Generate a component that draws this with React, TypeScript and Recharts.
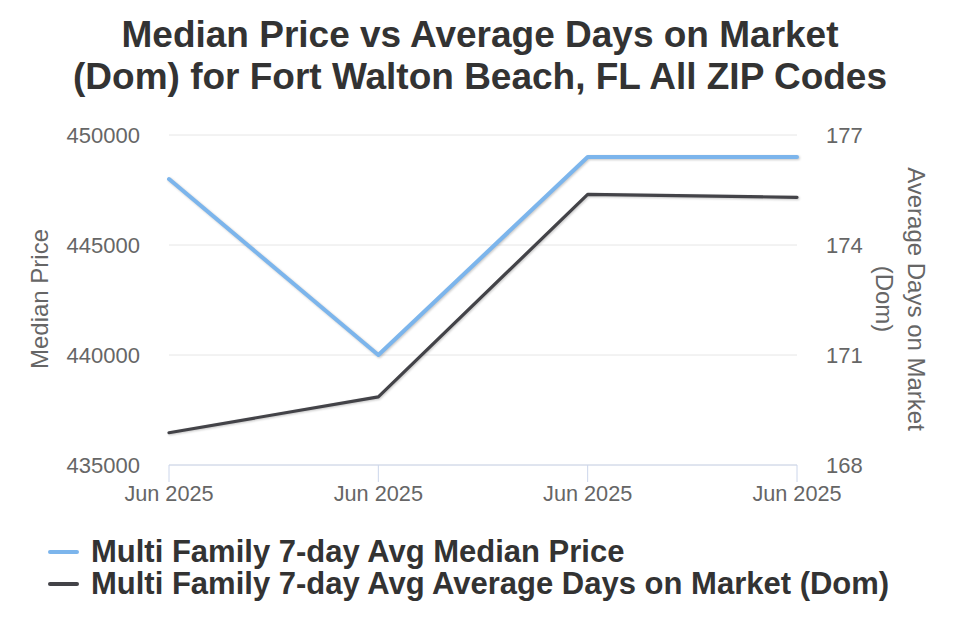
import React from 'react';
import { LineChart, Line, XAxis, YAxis, CartesianGrid, Legend } from 'recharts';

// ---- data ----
const periods = ['Jun 2025', 'Jun 2025', 'Jun 2025', 'Jun 2025'];
const medianPrice = [448000, 440000, 449000, 449000];
const avgDaysOnMarket = [168.88, 169.86, 175.38, 175.3];
const priceTicks = [435000, 440000, 445000, 450000];
const domTicks = [168, 171, 174, 177];

const titleLines = [
  'Median Price vs Average Days on Market',
  '(Dom) for Fort Walton Beach, FL All ZIP Codes',
];
const priceAxisTitle = 'Median Price';
const domAxisTitleLines = ['Average Days on Market', '(Dom)'];
const priceSeriesName = 'Multi Family 7-day Avg Median Price';
const domSeriesName = 'Multi Family 7-day Avg Average Days on Market (Dom)';
const seriesOrder = ['price', 'dom'];

const data = periods.map((period, i) => ({
  period,
  price: medianPrice[i],
  dom: avgDaysOnMarket[i],
}));

// ---- layout ----
const W = 960;
const H = 640;
const FONT = '"Liberation Sans", Arial, Helvetica, sans-serif';
const BLUE = '#7cb5ec';
const DARK = '#434348';
const AXIS_TEXT = '#666666';
const MARGIN = { top: 135, right: 63, bottom: 135, left: 69 };
const Y_AXIS_W = 100;

const LeftAxisTitle = (props: any) => {
  const vb = props.viewBox ?? { x: MARGIN.left, y: MARGIN.top, width: Y_AXIS_W, height: 330 };
  const cx = vb.x + vb.width - 130;
  const cy = vb.y + vb.height / 2 - 1;
  return (
    <text
      x={cx}
      y={cy}
      transform={`rotate(-90 ${cx} ${cy})`}
      textAnchor="middle"
      dominantBaseline="central"
      fontSize={24}
      fontFamily={FONT}
      fill={AXIS_TEXT}
    >
      {priceAxisTitle}
    </text>
  );
};

const RightAxisTitle = (props: any) => {
  const vb = props.viewBox ?? {
    x: W - MARGIN.right - Y_AXIS_W,
    y: MARGIN.top,
    width: Y_AXIS_W,
    height: 330,
  };
  const cy = vb.y + vb.height / 2 - 1;
  const offsets = [119.5, 87.5];
  return (
    <g>
      {domAxisTitleLines.map((line, i) => {
        const cx = vb.x + offsets[i];
        return (
          <text
            key={line}
            x={cx}
            y={cy}
            transform={`rotate(90 ${cx} ${cy})`}
            textAnchor="middle"
            dominantBaseline="central"
            fontSize={24}
            fontFamily={FONT}
            fill={AXIS_TEXT}
          >
            {line}
          </text>
        );
      })}
    </g>
  );
};

const renderLegend = (props: any) => {
  const items = [...(props.payload ?? [])].sort(
    (a: any, b: any) => seriesOrder.indexOf(a.dataKey) - seriesOrder.indexOf(b.dataKey)
  );
  return (
    <div style={{ fontFamily: FONT }}>
      {items.map((item: any) => (
        <div
          key={item.dataKey}
          style={{ display: 'flex', alignItems: 'center', height: 32 }}
        >
          <svg width={34} height={8} style={{ marginRight: 10, flex: 'none' }}>
            <line
              x1={3}
              y1={4}
              x2={30}
              y2={4}
              stroke={item.color}
              strokeWidth={4}
              strokeLinecap="round"
            />
          </svg>
          <span
            style={{
              fontSize: 31,
              fontWeight: 'bold',
              color: '#333333',
              lineHeight: '32px',
              whiteSpace: 'nowrap',
            }}
          >
            {item.value}
          </span>
        </div>
      ))}
    </div>
  );
};

export default function App() {
  return (
    <div
      style={{
        position: 'absolute',
        left: 0,
        top: 0,
        width: W,
        height: H,
        overflow: 'hidden',
        background: '#ffffff',
        fontFamily: FONT,
      }}
    >
      <style>{`
        .series-line .recharts-curve {
          filter: drop-shadow(1px 1.5px 1px rgba(0, 0, 0, 0.22));
        }
      `}</style>
      <div
        style={{
          position: 'absolute',
          top: 14,
          left: 0,
          width: W,
          textAlign: 'center',
          fontSize: 37,
          fontWeight: 'bold',
          lineHeight: '42px',
          color: '#333333',
          zIndex: 2,
        }}
      >
        {titleLines.map((line) => (
          <div key={line}>{line}</div>
        ))}
      </div>
      <LineChart width={W} height={H} data={data} margin={MARGIN}>
        <CartesianGrid
          yAxisId="price"
          vertical={false}
          stroke="#e6e6e6"
          strokeWidth={1}
        />
        <XAxis
          dataKey="period"
          stroke="#ccd6eb"
          axisLine={{ stroke: '#ccd6eb', strokeWidth: 1 }}
          tickLine={{ stroke: '#ccd6eb', strokeWidth: 1 }}
          tickSize={17}
          tickMargin={4}
          height={40}
          interval={0}
          tick={{ fill: AXIS_TEXT, fontSize: 21.7, fontFamily: FONT }}
        />
        <YAxis
          yAxisId="price"
          orientation="left"
          width={Y_AXIS_W}
          domain={[435000, 450000]}
          ticks={priceTicks}
          interval={0}
          axisLine={false}
          tickLine={false}
          tickSize={0}
          tickMargin={29}
          tick={{ fill: AXIS_TEXT, fontSize: 22, fontFamily: FONT }}
          label={<LeftAxisTitle />}
        />
        <YAxis
          yAxisId="dom"
          orientation="right"
          width={Y_AXIS_W}
          domain={[168, 177]}
          ticks={domTicks}
          interval={0}
          axisLine={false}
          tickLine={false}
          tickSize={0}
          tickMargin={29}
          tick={{ fill: AXIS_TEXT, fontSize: 22, fontFamily: FONT }}
          label={<RightAxisTitle />}
        />
        <Line
          className="series-line"
          yAxisId="price"
          type="linear"
          dataKey="price"
          name={priceSeriesName}
          stroke={BLUE}
          strokeWidth={4}
          strokeLinejoin="round"
          strokeLinecap="round"
          dot={false}
          activeDot={false}
          isAnimationActive={false}
        />
        <Line
          className="series-line"
          yAxisId="dom"
          type="linear"
          dataKey="dom"
          name={domSeriesName}
          stroke={DARK}
          strokeWidth={3.2}
          strokeLinejoin="round"
          strokeLinecap="round"
          dot={false}
          activeDot={false}
          isAnimationActive={false}
        />
        <Legend
          layout="vertical"
          align="center"
          verticalAlign="middle"
          content={renderLegend}
          wrapperStyle={{ left: 47, top: 536, width: 880, height: 66 }}
        />
      </LineChart>
    </div>
  );
}
